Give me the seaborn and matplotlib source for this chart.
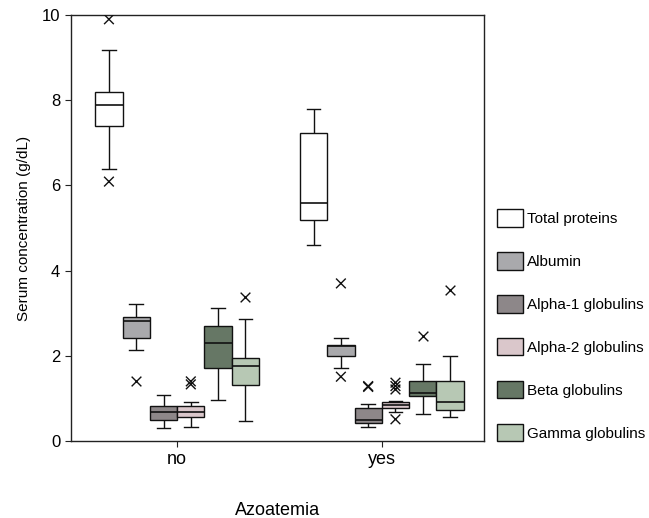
import pandas as pd
import matplotlib.pyplot as plt
import seaborn as sns

# groups and proteins
groups = ['no', 'yes']
proteins = ['Total proteins', 'Albumin', 'Alpha-1 globulins',
            'Alpha-2 globulins', 'Beta globulins', 'Gamma globulins']
colors = ['#FFFFFF', '#A9A8AD', '#8E8689', '#DDC4C9', '#637A62', '#B4CBB1']

# five-number summaries: low whisker, Q1, median, Q3, high whisker
no_stats = [
    [6.38, 7.39, 7.89, 8.19, 9.18],
    [2.13, 2.41, 2.82, 2.92, 3.22],
    [0.30, 0.50, 0.67, 0.82, 1.09],
    [0.34, 0.56, 0.68, 0.82, 0.92],
    [0.97, 1.71, 2.30, 2.70, 3.12],
    [0.48, 1.32, 1.75, 1.94, 2.86],
]
yes_stats = [
    [4.60, 5.19, 5.59, 7.22, 7.79],
    [1.71, 2.00, 2.23, 2.25, 2.42],
    [0.34, 0.42, 0.49, 0.77, 0.88],
    [0.67, 0.77, 0.85, 0.91, 0.94],
    [0.63, 1.06, 1.12, 1.42, 1.80],
    [0.57, 0.74, 0.91, 1.42, 2.00],
]

# outliers (x marks)
no_outliers = [[9.90, 6.09], [1.42], [], [1.40, 1.33], [], [3.39]]
yes_outliers = [[], [3.70, 1.51], [1.29, 1.27], [1.37, 1.29, 1.21, 0.51], [2.46], [3.54]]

rows = []
out_rows = []
for g, stats, outs in [('no', no_stats, no_outliers), ('yes', yes_stats, yes_outliers)]:
    for p, s, o in zip(proteins, stats, outs):
        for v in s:
            rows.append({'Azoatemia': g, 'Protein': p, 'Value': v})
        for v in o:
            out_rows.append({'Azoatemia': g, 'Protein': p, 'Value': v})
df = pd.DataFrame(rows)
df_out = pd.DataFrame(out_rows)

plt.rcParams['font.family'] = ['Liberation Sans', 'DejaVu Sans']
plt.rcParams['font.size'] = 11

fig = plt.figure(figsize=(6.49, 5.18), dpi=100)
ax = fig.add_axes([0.109, 0.1486, 0.637, 0.8224])

sns.boxplot(data=df, x='Azoatemia', y='Value', hue='Protein', order=groups,
            hue_order=proteins, palette=colors, whis=(0, 100), width=0.8, gap=0,
            linecolor='#111111', linewidth=1, fliersize=0, ax=ax,
            medianprops={'color': '#111111', 'linewidth': 1.2})
sns.stripplot(data=df_out, x='Azoatemia', y='Value', hue='Protein', order=groups,
              hue_order=proteins, palette=['#111111'] * 6, dodge=True, jitter=False,
              marker='x', size=7, linewidth=1, legend=False, ax=ax)

ax.set_ylim(0, 10)
ax.set_xlim(-0.52, 1.5)
ax.set_yticks([0, 2, 4, 6, 8, 10])
ax.set_ylabel('Serum concentration (g/dL)', fontsize=11, labelpad=8)
ax.set_xlabel('Azoatemia', fontsize=13, labelpad=24)
for sp in ax.spines.values():
    sp.set_color('#222222')
    sp.set_linewidth(1)
ax.tick_params(length=4, color='#222222')
ax.tick_params(axis='x', labelsize=13)
ax.tick_params(axis='y', labelsize=12)

sns.move_legend(ax, 'center left', bbox_to_anchor=(0.7658, 0.372),
                bbox_transform=fig.transFigure, frameon=False, title=None,
                borderpad=0, borderaxespad=0,
                handlelength=1.7, handleheight=1.37, labelspacing=1.67,
                handletextpad=0.26, fontsize=11)

fig.savefig('out.png', dpi=100)
